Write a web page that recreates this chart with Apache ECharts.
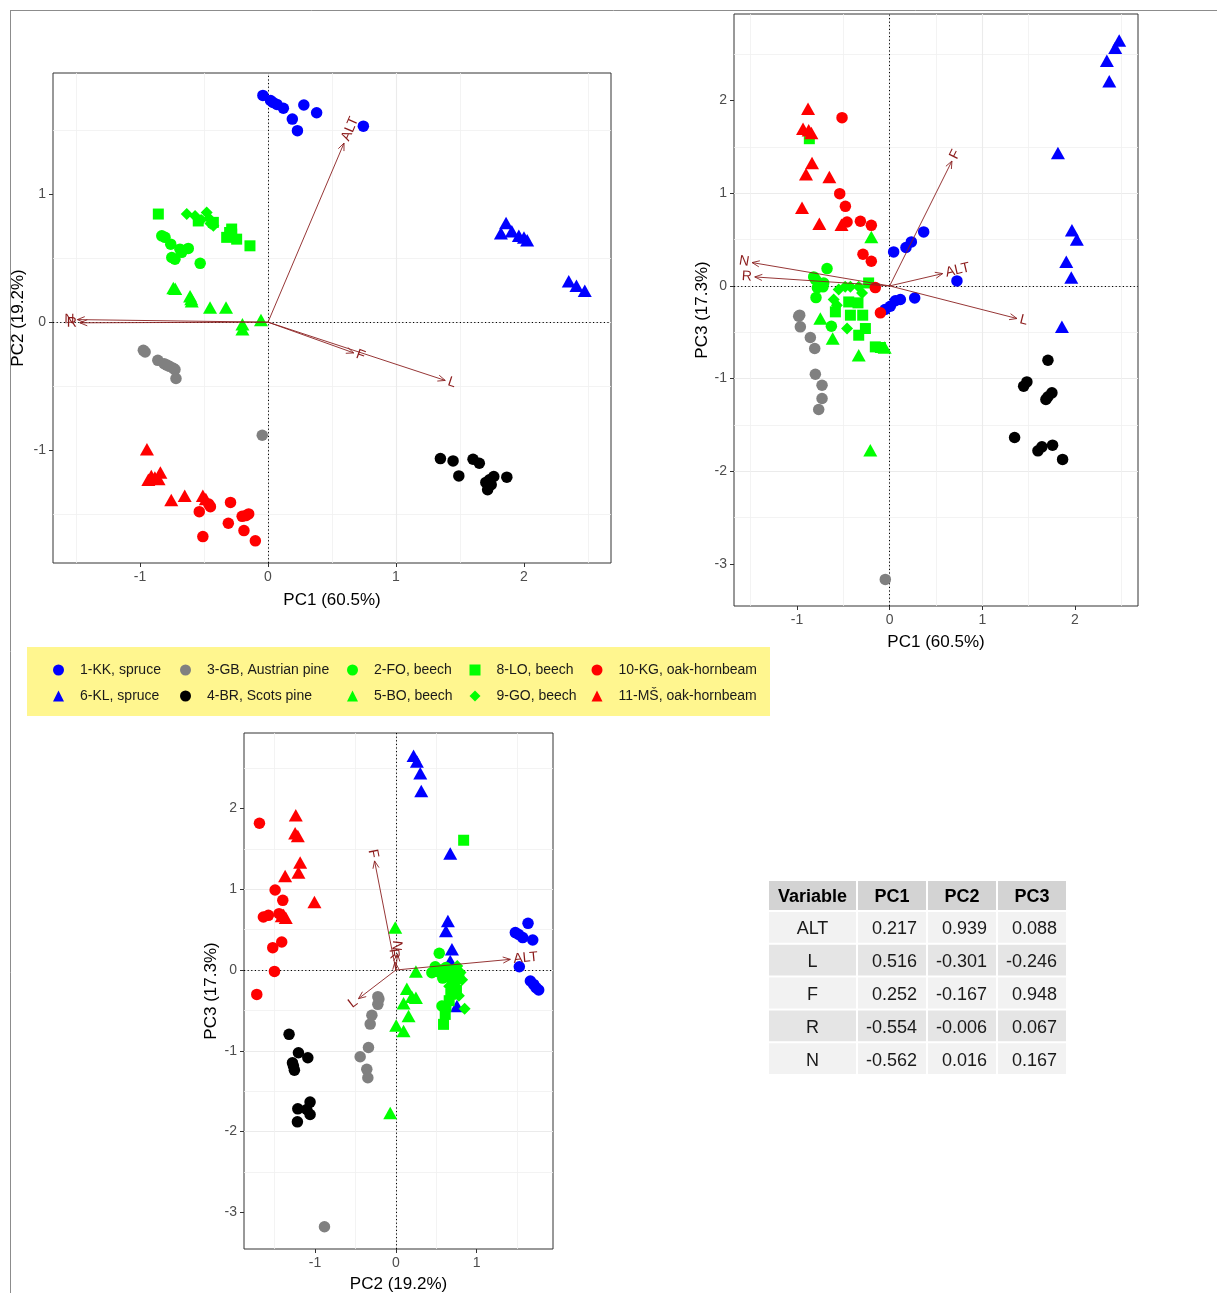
<!DOCTYPE html>
<html><head><meta charset="utf-8">
<script src="https://cdn.jsdelivr.net/npm/echarts@6/dist/echarts.min.js"></script>
<style>html,body{margin:0;padding:0;background:#fff}#c{width:1217px;height:1293px}</style>
</head><body><div id="c"></div>
<script>
// ---------- tick labels ----------
const pc1Ticks = [-1, 0, 1, 2];
const pc2Ticks = [-1, 0, 1];
const pc3Ticks = [-3, -2, -1, 0, 1, 2];
const PC1_RANGE = [-1.68, 2.68];
const PC2_RANGE = [-1.88, 1.945];
const PC3_RANGE = [-3.455, 2.935];

// ---------- categories ----------
const groupNames = ['1-KK, spruce','6-KL, spruce','3-GB, Austrian pine','4-BR, Scots pine','2-FO, beech','5-BO, beech','8-LO, beech','9-GO, beech','10-KG, oak-hornbeam','11-MŠ, oak-hornbeam'];

// ---------- plot 1 : PC1 vs PC2 ----------
const kk12 = [[-0.04,1.77],[0.02,1.73],[0.04,1.715],[0.07,1.70],[0.12,1.67],[0.19,1.585],[0.23,1.495],[0.28,1.695],[0.38,1.635],[0.745,1.53]];
const kl12 = [[1.86,0.775],[1.82,0.695],[1.905,0.71],[1.96,0.675],[2.0,0.66],[2.025,0.64],[2.35,0.32],[2.41,0.285],[2.475,0.245]];
const gb12 = [[-0.974,-0.22],[-0.96,-0.233],[-0.861,-0.298],[-0.812,-0.324],[-0.79,-0.335],[-0.77,-0.345],[-0.74,-0.36],[-0.727,-0.37],[-0.719,-0.44],[-0.045,-0.883]];
const br12 = [[1.347,-1.065],[1.446,-1.083],[1.602,-1.07],[1.651,-1.101],[1.491,-1.2],[1.764,-1.205],[1.866,-1.21],[1.702,-1.251],[1.744,-1.269],[1.716,-1.308],[1.73,-1.23]];
const fo12 = [[-0.83,0.674],[-0.805,0.662],[-0.76,0.609],[-0.688,0.57],[-0.623,0.576],[-0.752,0.505],[-0.727,0.492],[-0.53,0.459],[-0.674,0.545]];
const bo12 = [[-0.74,0.266],[-0.725,0.26],[-0.609,0.203],[-0.6,0.18],[-0.596,0.164],[-0.453,0.115],[-0.328,0.115],[-0.2,-0.016],[-0.2,-0.055],[-0.055,0.016]];
const lo12 = [[-0.857,0.844],[-0.545,0.79],[-0.427,0.779],[-0.284,0.727],[-0.323,0.662],[-0.245,0.648],[-0.141,0.596],[-0.284,0.688],[-0.30,0.70]];
const go12 = [[-0.635,0.844],[-0.57,0.828],[-0.479,0.857],[-0.427,0.752],[-0.523,0.797],[-0.461,0.812],[-0.45,0.77]];
const kg12 = [[-0.463,-1.42],[-0.293,-1.407],[-0.537,-1.479],[-0.202,-1.516],[-0.151,-1.497],[-0.173,-1.51],[-0.31,-1.57],[-0.188,-1.627],[-0.509,-1.674],[-0.099,-1.707],[-0.45,-1.44]];
const ms12 = [[-0.946,-0.992],[-0.912,-1.2],[-0.884,-1.212],[-0.841,-1.174],[-0.935,-1.231],[-0.855,-1.225],[-0.756,-1.389],[-0.651,-1.355],[-0.509,-1.355],[-0.486,-1.381]];
const arrows12 = [['ALT',0.594,1.398],['L',1.385,-0.455],['F',0.67,-0.24],['R',-1.47,-0.005],['N',-1.49,0.02]];

// ---------- plot 2 : PC1 vs PC3 ----------
const kk13 = [[0.367,0.583],[0.234,0.475],[0.176,0.414],[0.043,0.367],[0.726,0.054],[0.27,-0.13],[0.115,-0.147],[0.061,-0.16],[0.007,-0.22],[-0.05,-0.255]];
const kl13 = [[2.477,2.65],[2.434,2.57],[2.344,2.43],[2.37,2.21],[1.816,1.435],[1.967,0.6],[2.02,0.5],[1.906,0.26],[1.96,0.09],[1.859,-0.44]];
const gb13 = [[-0.982,-0.327],[-0.971,-0.316],[-0.964,-0.442],[-0.856,-0.557],[-0.809,-0.676],[-0.802,-0.953],[-0.73,-1.072],[-0.73,-1.215],[-0.766,-1.334],[-0.047,-3.168]];
const br13 = [[1.708,-0.802],[1.481,-1.036],[1.446,-1.082],[1.751,-1.154],[1.708,-1.197],[1.686,-1.226],[1.348,-1.636],[1.643,-1.737],[1.6,-1.78],[1.758,-1.719],[1.866,-1.873]];
const fo13 = [[-0.676,0.187],[-0.82,0.097],[-0.8,0.068],[-0.712,0.032],[-0.78,-0.02],[-0.76,0.03],[-0.795,-0.126],[-0.629,-0.435],[-0.72,-0.01]];
const bo13 = [[-0.198,0.529],[-0.748,-0.352],[-0.615,-0.568],[-0.334,-0.748],[-0.054,-0.665],[-0.209,-1.773]];
const lo13 = [[-0.867,1.589],[-0.227,0.032],[-0.442,-0.173],[-0.342,-0.183],[-0.586,-0.28],[-0.424,-0.316],[-0.291,-0.316],[-0.262,-0.46],[-0.334,-0.532],[-0.155,-0.658],[-0.1,-0.665]];
const go13 = [[-0.55,-0.04],[-0.48,-0.01],[-0.424,-0.01],[-0.334,-0.01],[-0.298,-0.076],[-0.604,-0.147],[-0.57,-0.21],[-0.46,-0.46]];
const kg13 = [[-0.514,1.816],[-0.539,0.996],[-0.478,0.859],[-0.46,0.69],[-0.316,0.698],[-0.198,0.654],[-0.288,0.342],[-0.198,0.266],[-0.155,-0.018],[-0.1,-0.291]];
const ms13 = [[-0.881,1.913],[-0.935,1.697],[-0.874,1.679],[-0.845,1.65],[-0.838,1.327],[-0.903,1.205],[-0.651,1.176],[-0.946,0.845],[-0.759,0.672],[-0.52,0.66]];
const arrows13 = [['F',0.672,1.348],['ALT',0.572,0.133],['L',1.374,-0.352],['N',-1.485,0.252],['R',-1.456,0.097]];

// ---------- plot 3 : PC2 vs PC3 ----------
const kk23 = [[1.636,0.578],[1.479,0.463],[1.52,0.44],[1.57,0.401],[1.694,0.372],[1.528,0.041],[1.665,-0.136],[1.706,-0.178],[1.735,-0.219],[1.768,-0.248]];
const kl23 = [[0.219,2.652],[0.26,2.582],[0.302,2.437],[0.314,2.218],[0.673,1.442],[0.644,0.607],[0.62,0.483],[0.694,0.256],[0.673,0.112],[0.756,-0.446]];
const gb23 = [[-0.223,-0.33],[-0.21,-0.36],[-0.223,-0.425],[-0.297,-0.56],[-0.318,-0.67],[-0.339,-0.96],[-0.442,-1.074],[-0.36,-1.23],[-0.347,-1.334],[-0.884,-3.18]];
const br23 = [[-1.322,-0.797],[-1.206,-1.024],[-1.09,-1.086],[-1.28,-1.148],[-1.268,-1.19],[-1.256,-1.24],[-1.062,-1.636],[-1.214,-1.719],[-1.103,-1.727],[-1.062,-1.789],[-1.219,-1.88]];
const fo23 = [[0.537,0.207],[0.487,0.041],[0.446,-0.033],[0.57,-0.446],[0.55,0.0],[0.6,-0.05],[0.52,-0.02],[0.62,0.03],[0.58,-0.1]];
const bo23 = [[-0.008,0.525],[0.248,-0.02],[0.136,-0.231],[0.198,-0.33],[0.248,-0.343],[0.095,-0.413],[0.157,-0.57],[0.004,-0.686],[0.095,-0.756],[-0.07,-1.77]];
const lo23 = [[0.839,1.607],[0.59,-0.673],[0.611,-0.55],[0.7,-0.12],[0.72,-0.2],[0.68,-0.3],[0.75,-0.25],[0.66,-0.38],[0.78,-0.08],[0.7,0.0],[0.62,-0.45]];
const go23 = [[0.851,-0.479],[0.8,-0.03],[0.82,-0.12],[0.76,0.05],[0.74,-0.16],[0.66,-0.2],[0.78,-0.32]];
const kg23 = [[-1.689,1.817],[-1.495,0.991],[-1.4,0.863],[-1.64,0.657],[-1.578,0.677],[-1.446,0.698],[-1.413,0.347],[-1.524,0.277],[-1.503,-0.017],[-1.722,-0.302]];
const ms23 = [[-1.239,1.917],[-1.247,1.693],[-1.214,1.66],[-1.185,1.33],[-1.206,1.206],[-1.371,1.165],[-1.008,0.843],[-1.413,0.669],[-1.363,0.648],[-1.39,0.68]];
const arrows23 = [['F',-0.264,1.351],['ALT',1.417,0.132],['L',-0.463,-0.355],['N',0.02,0.2],['R',-0.012,0.1]];

// ---------- loadings table ----------
const tableHeader = ['Variable','PC1','PC2','PC3'];
const tableVars = ['ALT','L','F','R','N'];
const loadPC1 = [0.217,0.516,0.252,-0.554,-0.562];
const loadPC2 = [0.939,-0.301,-0.167,-0.006,0.016];
const loadPC3 = [0.088,-0.246,0.948,0.067,0.167];

// ---------- styles ----------
const FONT = '"Liberation Sans", Arial, sans-serif';
const ARROW = '#8B2020';
const groupStyle = [
  {color:'#0000FF', symbol:'circle', size:11.5},
  {color:'#0000FF', symbol:'triangle', size:[14,12.5]},
  {color:'#808080', symbol:'circle', size:11.5},
  {color:'#000000', symbol:'circle', size:11.5},
  {color:'#00FF00', symbol:'circle', size:11.5},
  {color:'#00FF00', symbol:'triangle', size:[14,12.5]},
  {color:'#00FF00', symbol:'rect', size:11},
  {color:'#00FF00', symbol:'diamond', size:12},
  {color:'#FF0000', symbol:'circle', size:11.5},
  {color:'#FF0000', symbol:'triangle', size:[14,12.5]}
];
const plotData = [
  [kk12, kl12, gb12, br12, fo12, bo12, lo12, go12, kg12, ms12],
  [kk13, kl13, gb13, br13, fo13, bo13, lo13, go13, kg13, ms13],
  [kk23, kl23, gb23, br23, fo23, bo23, lo23, go23, kg23, ms23]
];
const plotArrows = [arrows12, arrows13, arrows23];

function mkAxis(gridIndex, range, ticks, name, nameGap, isY) {
  return {
    type:'value', gridIndex, min:range[0], max:range[1], minInterval:1, maxInterval:1,
    name, nameLocation:'middle', nameGap, nameRotate: isY ? 90 : 0,
    nameTextStyle:{fontSize:17, color:'#000', fontFamily:FONT},
    axisLine:{show:false, onZero:false},
    axisTick:{show:true, customValues:ticks, length:4, lineStyle:{color:'#333', width:1}},
    axisLabel:{customValues:ticks, fontSize:14, color:'#4D4D4D', margin:7, fontFamily:FONT},
    splitLine:{show:true, showMinLine:false, showMaxLine:false, lineStyle:{color:'#EBEBEB', width:1.1}},
    minorTick:{show:false, splitNumber:2},
    minorSplitLine:{show:true, lineStyle:{color:'#F0F0F0', width:0.8}}
  };
}

function arrowRenderer(list) {
  return function (params, api) {
    const x = api.value(0), y = api.value(1);
    const o = api.coord([0, 0]), t = api.coord([x, y]);
    const dx = t[0] - o[0], dy = t[1] - o[1];
    const len = Math.hypot(dx, dy) || 1;
    const ux = dx / len, uy = dy / len;
    const L = 8, A = Math.PI / 8;
    const hp = (a) => [t[0] - L * (ux * Math.cos(a) - uy * Math.sin(a)), t[1] - L * (ux * Math.sin(a) + uy * Math.cos(a))];
    const name = list[params.dataIndex][0];
    return {type:'group', children:[
      {type:'line', shape:{x1:o[0], y1:o[1], x2:t[0], y2:t[1]}, style:{stroke:ARROW, lineWidth:1, opacity:0.9}},
      {type:'polyline', shape:{points:[hp(A), [t[0], t[1]], hp(-A)]}, style:{stroke:ARROW, lineWidth:1, fill:null, opacity:0.9}},
      {type:'text', x:t[0] + ux * 3, y:t[1] + uy * 3, rotation:Math.atan(y / x),
        style:{text:name, align: x >= 0 ? 'left' : 'right', verticalAlign:'middle', fill:'#8B1A1A', fontSize:14, fontFamily:FONT}}
    ]};
  };
}

const series = [];
for (let p = 0; p < 3; p++) {
  groupNames.forEach((nm, g) => {
    const st = groupStyle[g];
    const s = {
      type:'scatter', name:nm, xAxisIndex:p, yAxisIndex:p, data:plotData[p][g],
      symbol:st.symbol, symbolSize:st.size, itemStyle:{color:st.color, opacity:1},
      emphasis:{disabled:true}, z:2, animation:false
    };
    if (g === 0) {
      s.markLine = {silent:true, symbol:'none', z:1, animation:false, label:{show:false},
        lineStyle:{color:'#000', type:[1.2, 2.4], width:1}, emphasis:{disabled:true},
        data:[{xAxis:0}, {yAxis:0}]};
    }
    series.push(s);
  });
  const arr = plotArrows[p];
  series.push({
    type:'custom', name:'loadings' + p, xAxisIndex:p, yAxisIndex:p, z:3, silent:true, animation:false,
    data: arr.map(a => [a[1], a[2]]), encode:{x:0, y:1}, renderItem: arrowRenderer(arr)
  });
}

// legend columns (column-major, like the ggplot legend)
const legendCols = [
  [groupNames[0], groupNames[1]],
  [groupNames[2], groupNames[3]],
  [groupNames[4], groupNames[5]],
  [groupNames[6], groupNames[7]],
  [groupNames[8], groupNames[9]]
];
const legendLeft = [53, 180, 347, 469.5, 591.5];
const legend = legendCols.map((names, i) => ({
  data:names, orient:'vertical', left:legendLeft[i], top:663, itemWidth:11, itemHeight:11, itemGap:12,
  padding:0, selectedMode:false,
  textStyle:{fontSize:14, color:'#1a1a1a', fontFamily:FONT, padding:[0,0,0,11], lineHeight:14}
}));

// table graphic
const graphics = [
  {type:'line', shape:{x1:10, y1:10.5, x2:1217, y2:10.5}, style:{stroke:'#8c8c8c', lineWidth:1}},
  {type:'line', shape:{x1:10.5, y1:10, x2:10.5, y2:1293}, style:{stroke:'#8c8c8c', lineWidth:1}},
  {type:'rect', shape:{x:27, y:647, width:743, height:69}, style:{fill:'#FFF68F'}, z:-10}
];
const colX = [768, 857, 927, 997, 1067];
const headTop = 880, headH = 31, rowH = 32.8;
for (let c = 0; c < 4; c++) {
  graphics.push({type:'rect', shape:{x:colX[c] + 1, y:headTop + 1, width:colX[c + 1] - colX[c] - 2, height:headH - 2}, style:{fill:'#D3D3D3'}});
  graphics.push({type:'text', x:(colX[c] + colX[c + 1]) / 2, y:headTop + headH / 2 + 2,
    style:{text:tableHeader[c], align:'center', verticalAlign:'middle', fill:'#000', fontSize:18, fontWeight:'bold', fontFamily:FONT}});
}
const loadCols = [loadPC1, loadPC2, loadPC3];
tableVars.forEach((v, r) => {
  const y0 = headTop + headH + r * rowH;
  const bg = r % 2 === 0 ? '#F2F2F2' : '#E5E5E5';
  for (let c = 0; c < 4; c++) {
    graphics.push({type:'rect', shape:{x:colX[c] + 1, y:y0 + 1, width:colX[c + 1] - colX[c] - 2, height:rowH - 2}, style:{fill:bg}});
  }
  graphics.push({type:'text', x:(colX[0] + colX[1]) / 2, y:y0 + rowH / 2 + 2,
    style:{text:v, align:'center', verticalAlign:'middle', fill:'#1a1a1a', fontSize:18, fontFamily:FONT}});
  for (let c = 0; c < 3; c++) {
    graphics.push({type:'text', x:colX[c + 2] - 10, y:y0 + rowH / 2 + 2,
      style:{text:loadCols[c][r].toFixed(3), align:'right', verticalAlign:'middle', fill:'#1a1a1a', fontSize:18, fontFamily:FONT}});
  }
});

const option = {
  animation:false,
  backgroundColor:'#fff',
  textStyle:{fontFamily:FONT},
  grid:[
    {left:53, top:73, width:558, height:490, show:true, borderColor:'#333', borderWidth:1, backgroundColor:'#fff', outerBoundsMode:'none'},
    {left:734, top:14, width:404, height:592, show:true, borderColor:'#333', borderWidth:1, backgroundColor:'#fff', outerBoundsMode:'none'},
    {left:244, top:733, width:309, height:516, show:true, borderColor:'#333', borderWidth:1, backgroundColor:'#fff', outerBoundsMode:'none'}
  ],
  xAxis:[
    mkAxis(0, PC1_RANGE, pc1Ticks, 'PC1 (60.5%)', 29, false),
    mkAxis(1, PC1_RANGE, pc1Ticks, 'PC1 (60.5%)', 28, false),
    mkAxis(2, PC2_RANGE, pc2Ticks, 'PC2 (19.2%)', 27, false)
  ],
  yAxis:[
    mkAxis(0, PC2_RANGE, pc2Ticks, 'PC2 (19.2%)', 26, true),
    mkAxis(1, PC3_RANGE, pc3Ticks, 'PC3 (17.3%)', 23, true),
    mkAxis(2, PC3_RANGE, pc3Ticks, 'PC3 (17.3%)', 24, true)
  ],
  legend,
  graphic:{elements:graphics},
  series
};
const chart = echarts.init(document.getElementById('c'), null, {renderer:'canvas'});
chart.setOption(option);
</script></body></html>
